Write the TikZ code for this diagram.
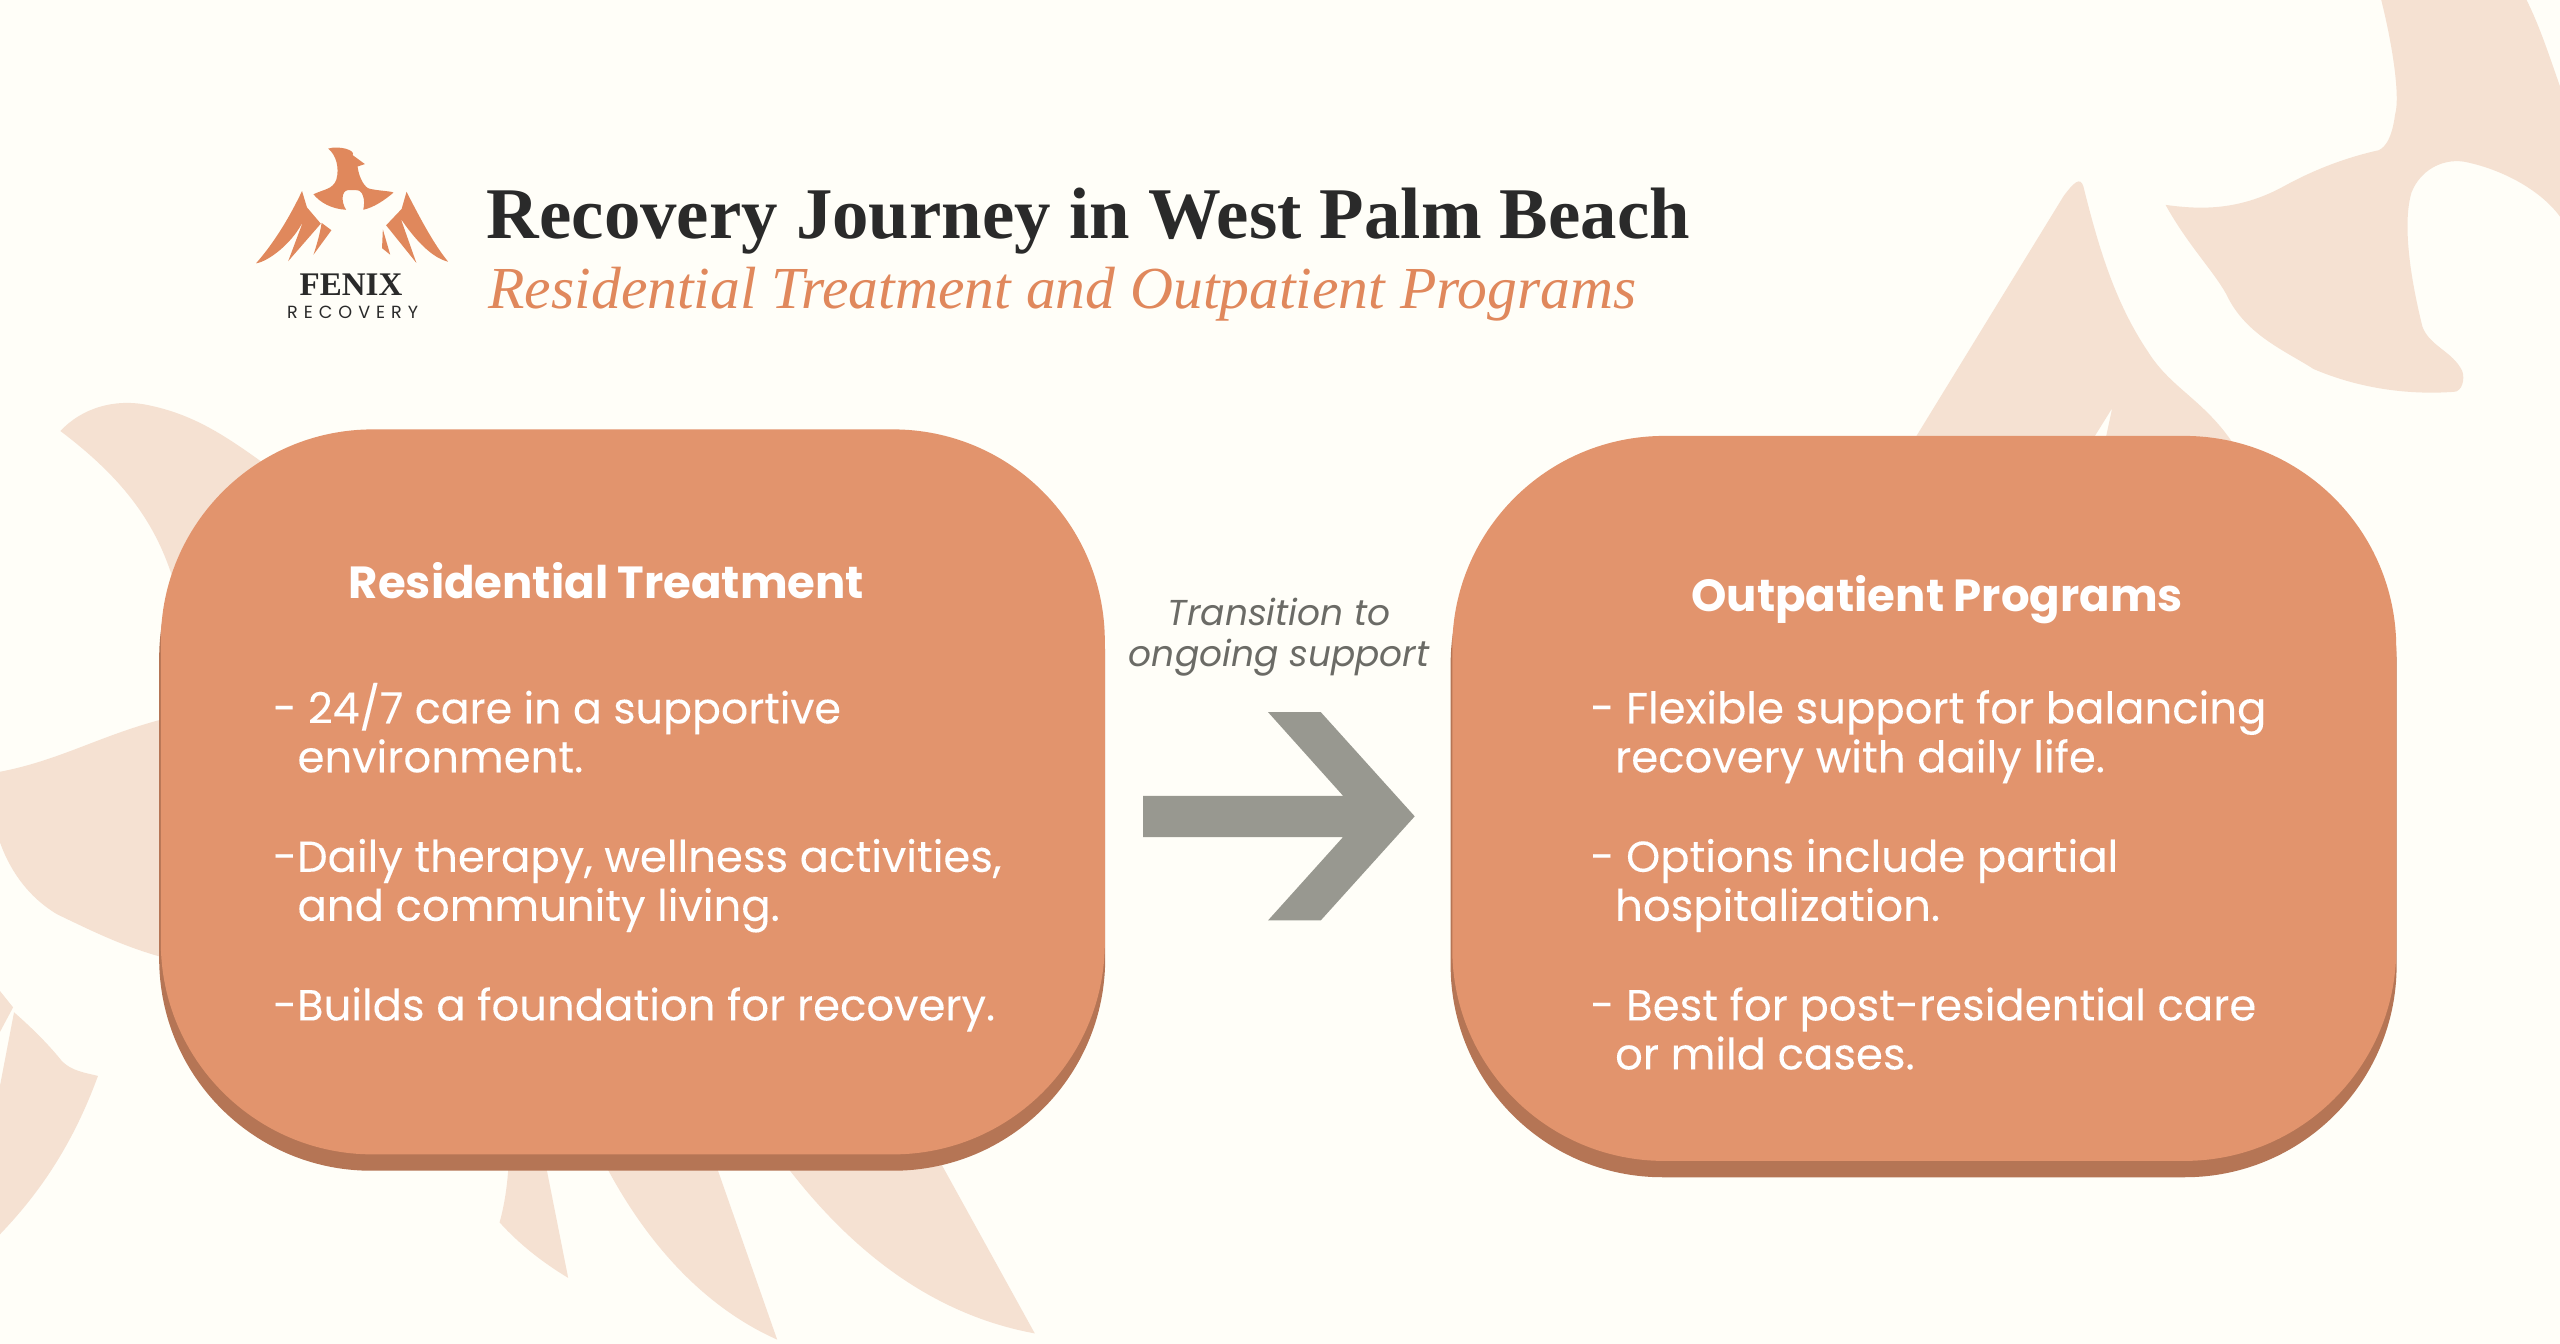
\documentclass[tikz,border=0pt]{standalone}
\usepackage{fontspec}
\setmainfont{Liberation Serif}
\newfontfamily\pop{Poppins}
\newfontfamily\popmed[FakeBold=0.12]{Poppins}
\newfontfamily\popspaced[LetterSpace=34]{Poppins}
\definecolor{bgcol}{HTML}{FFFEF8}
\definecolor{leaf}{HTML}{F5E1D2}
\definecolor{card}{HTML}{E2946D}
\definecolor{cardshade}{HTML}{B57555}
\definecolor{arrowgrey}{HTML}{989890}
\definecolor{notegrey}{HTML}{6B6B66}
\definecolor{logoor}{HTML}{E0885C}
\definecolor{ink}{HTML}{2A2A2A}
\tikzset{
  leafshape/.style={fill=leaf,draw=none},
  logoshape/.style={fill=logoor,draw=none},
  cardbox/.style={fill=card,draw=none,rounded corners=106pt,inner sep=0pt,outer sep=0pt,anchor=north west,minimum width=472pt,minimum height=362.5pt},
  shadebox/.style={fill=cardshade,draw=none,rounded corners=106pt,inner sep=0pt,outer sep=0pt,anchor=north west,minimum width=473pt,minimum height=362.5pt},
  bodytext/.style={text=white,anchor=base west,inner sep=0pt,font=\popmed\fontsize{21.7}{26}\selectfont},
  headtext/.style={text=white,anchor=base,inner sep=0pt,font=\pop\bfseries\fontsize{22.5}{26}\selectfont},
  notetext/.style={text=notegrey,anchor=base,inner sep=0pt,font=\pop\itshape\fontsize{18}{22}\selectfont},
}
\begin{document}
\begin{tikzpicture}[x=0.81633pt,y=-0.81633pt]
\useasboundingbox (0,0) rectangle (1568,823.2);
\fill[bgcol] (0,0) rectangle (1568,823.2);
% background leaves: top right
\path[leafshape] (1458.5,0) .. controls (1466,30) and (1470,60) .. (1467,70) .. controls (1465,85) and (1461,90) .. (1457,92)
  .. controls (1430,98) and (1410,108) .. (1399,114) .. controls (1370,130) and (1345,128) .. (1326.4,125.5)
  .. controls (1340,150) and (1355,165) .. (1363.5,180) .. controls (1375,205) and (1400,215) .. (1417,226)
  .. controls (1445,238) and (1475,242) .. (1503,240) .. controls (1508,240) and (1510,232) .. (1508,227)
  .. controls (1502,215) and (1488,212) .. (1483.7,200) .. controls (1475,165) and (1472,135) .. (1477,118)
  .. controls (1482,105) and (1495,97) .. (1509,99) .. controls (1530,103) and (1555,115) .. (1568,132.7)
  -- (1568,53) .. controls (1560,30) and (1555,15) .. (1547.5,0) -- cycle;
\path[leafshape] (1172,270) -- (1264,120) .. controls (1270,112) and (1274,108) .. (1276,114)
  .. controls (1285,150) and (1295,185) .. (1316,216) .. controls (1330,238) and (1350,245) .. (1368,272)
  -- (1289,272) -- (1293.7,250) -- (1280,272) -- cycle;
% left
\path[leafshape] (37,264) .. controls (50,250) and (70,244) .. (90,248) .. controls (120,254) and (140,268) .. (170,290)
  -- (110,370) .. controls (100,325) and (78,295) .. (37,264) -- cycle;
\path[leafshape] (0,472.7) .. controls (40,465) and (65,448) .. (110,438) -- (110,589) .. controls (80,582) and (60,572) .. (35,560) .. controls (15,548) and (5,530) .. (0,516) -- cycle;
\path[leafshape] (8.6,620) .. controls (20,630) and (30,640) .. (38,650) .. controls (44,656) and (52,657) .. (60,659)
  .. controls (45,700) and (25,730) .. (0,756) -- (0,665) -- cycle;
\path[leafshape] (0,607) -- (8,617) -- (0,632) -- cycle;
% bottom feathers
\path[leafshape] (311.5,712) .. controls (311,725) and (309,738) .. (306,748.7) .. controls (318,762) and (332,773) .. (348,782.7) -- (334,712) -- cycle;
\path[leafshape] (370,712) .. controls (395,760) and (430,800) .. (476,820.5) -- (438,712) -- cycle;
\path[leafshape] (480,712) .. controls (520,765) and (570,805) .. (633.8,816.7) -- (576,712) -- cycle;
% cards
\node[shadebox] (leftshade) at (97.5,273) {};
\node[cardbox] (leftcard) at (98.5,263) {};
\node[shadebox] (rightshade) at (888.5,277) {};
\node[cardbox] (rightcard) at (889.5,267) {};
% logo
\path[logoshape] (201,91) .. controls (208,89) and (218,92) .. (216,95) -- (223.5,100.5) -- (219,102) .. controls (220,110) and (224,115) .. (226,115.5)
  .. controls (232,117) and (240,117) .. (241,118) .. controls (235,123) and (229,127) .. (222.5,128.5)
  .. controls (224,122) and (222,116) .. (218,116.5) -- (213,116.5) .. controls (209,117) and (209,124) .. (212,128.5)
  .. controls (203,128) and (196,124) .. (192,119) .. controls (198,116) and (204,116) .. (206,110) .. controls (208,103) and (206,95) .. (201,91) -- cycle;
\path[logoshape] (185,117) .. controls (175,138) and (165,152) .. (156.8,161.3) .. controls (165,160) and (180,148) .. (186,134.7) -- (176.5,160) -- (196.5,137) -- (188,127) -- cycle;
\path[logoshape] (197,136.5) -- (203,141) -- (192,156) .. controls (194,150) and (196,143) .. (197,136.5) -- cycle;
\path[logoshape] (249,117.5) .. controls (258,135) and (266,150) .. (274.5,160.3) .. controls (265,158) and (255,148) .. (245.5,134) -- (255,161) -- (236.5,138) -- (246,128) -- cycle;
\path[logoshape] (234.5,140.5) -- (239,156) -- (234,152) -- cycle;
\node[font=\bfseries\fontsize{16.5}{20}\selectfont,text=ink,inner sep=0pt,anchor=base] (fenix) at (215,181) {FENIX};
\node[font=\popspaced\fontsize{8.8}{10}\selectfont,text=ink,inner sep=0pt,anchor=base] (recovery) at (216,195) {RECOVERY};
% title
\node[font=\bfseries\fontsize{36.4}{40}\selectfont,text=ink,inner sep=0pt,anchor=base west] (title) at (298,146) {Recovery Journey in West Palm Beach};
\node[font=\itshape\fontsize{29.8}{34}\selectfont,text=logoor,inner sep=0pt,anchor=base west] (subtitle) at (299,189) {Residential Treatment and Outpatient Programs};
% left card text
\node[headtext] (lhead) at (371.5,366.5) {Residential Treatment};
\node[bodytext,font=\popmed\fontsize{21.4}{26}\selectfont] (l1) at (167,443) {- 24/7 care in a supportive};
\node[bodytext] (l2) at (182,473) {environment.};
\node[bodytext] (l3) at (167,534) {-Daily therapy, wellness activities,};
\node[bodytext] (l4) at (182,564) {and community living.};
\node[bodytext] (l5) at (167,625) {-Builds a foundation for recovery.};
% right card text
\node[headtext] (rhead) at (1186.5,374.5) {Outpatient Programs};
\node[bodytext] (r1) at (974,443) {- Flexible support for balancing};
\node[bodytext] (r2) at (989,473) {recovery with daily life.};
\node[bodytext] (r3) at (974,534) {- Options include partial};
\node[bodytext] (r4) at (989,564) {hospitalization.};
\node[bodytext] (r5) at (974,625) {- Best for post-residential care};
\node[bodytext] (r6) at (989,655) {or mild cases.};
% arrow
\node[notetext] (n1) at (783.5,383) {Transition to};
\node[notetext] (n2) at (783.5,408) {ongoing support};
\fill[arrowgrey] (700.2,487.4) -- (700.2,512.7) -- (822.6,512.7) -- (776.7,563.7) -- (809,563.7) -- (866.5,500) -- (809,436.2) -- (776.7,436.2) -- (822.6,487.4) -- cycle;
\end{tikzpicture}
\end{document}
